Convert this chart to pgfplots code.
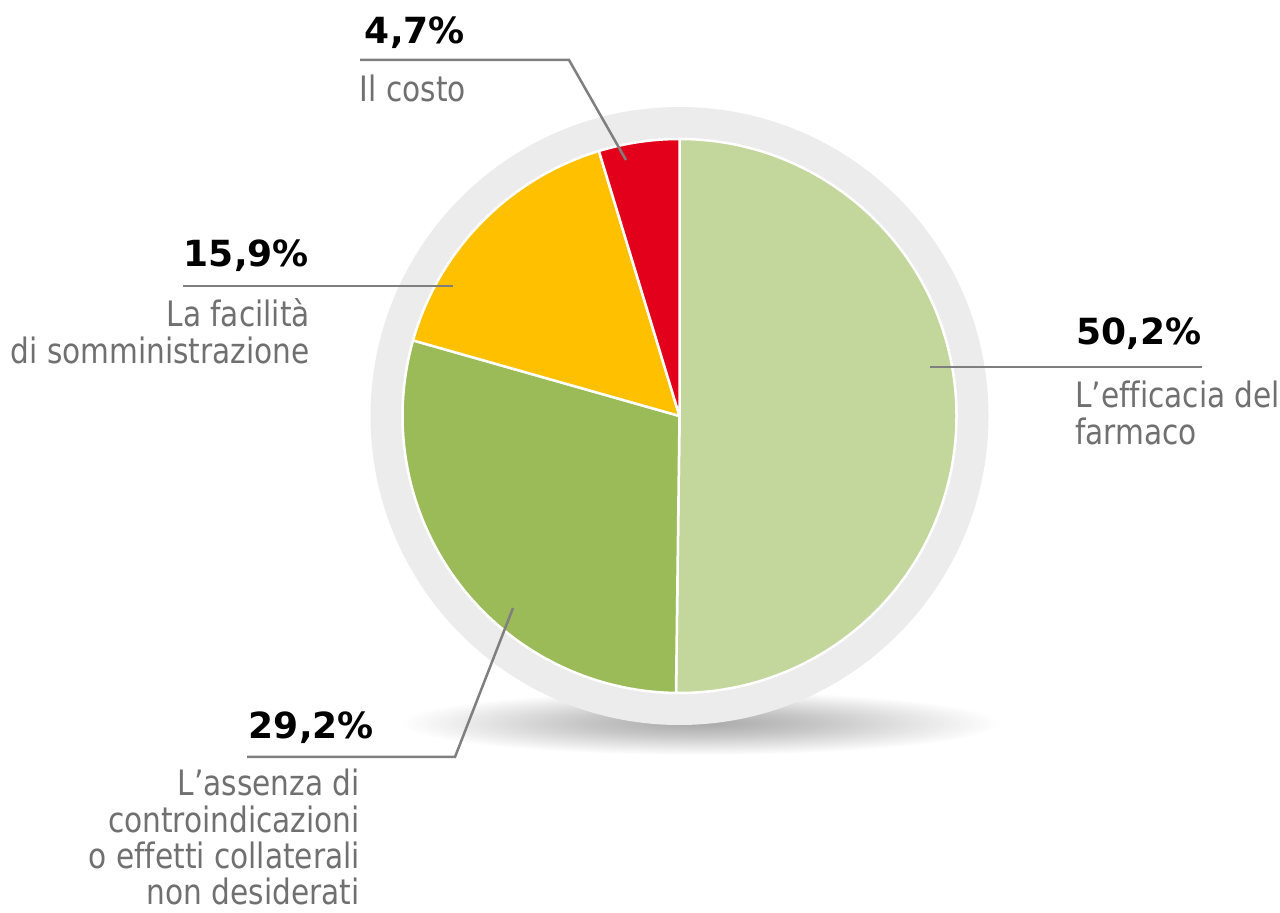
\documentclass[border=0pt]{standalone}
\usepackage{fontspec}
\setmainfont{DejaVu Sans Condensed}[FakeStretch=0.94, Ligatures=NoCommon]
\newfontfamily\pctfont{DejaVu Sans}[Ligatures=NoCommon]
\usepackage{pgfplots}
\usepackage{pgfplotstable}
\pgfplotsset{compat=1.18}

\definecolor{sliceA}{HTML}{C3D69B}
\definecolor{sliceB}{HTML}{9BBB59}
\definecolor{sliceC}{HTML}{FFC000}
\definecolor{sliceD}{HTML}{E2001A}
\definecolor{ringgray}{HTML}{ECECEC}
\definecolor{leader}{HTML}{7F7F7F}
\definecolor{txtgray}{HTML}{707070}

\pgfdeclareradialshading{pieshadow}{\pgfpoint{0bp}{0bp}}{%
  color(0bp)=(black!34); color(10bp)=(black!22); color(25bp)=(white); color(50bp)=(white)}

% shares, clockwise from 12 o'clock
\pgfplotstableread{
value
50.2
29.2
15.9
4.7
}\piedata

\newcommand{\pct}[1]{\pctfont\fontsize{36}{37}\selectfont\bfseries #1}
\newcommand{\lbl}{\fontsize{35}{37}\selectfont\color{txtgray}}

\begin{document}
\begin{tikzpicture}
\pgfplotstablegetelem{0}{value}\of\piedata \pgfmathsetmacro\va{\pgfplotsretval}
\pgfplotstablegetelem{1}{value}\of\piedata \pgfmathsetmacro\vb{\pgfplotsretval}
\pgfplotstablegetelem{2}{value}\of\piedata \pgfmathsetmacro\vc{\pgfplotsretval}
\pgfplotstablegetelem{3}{value}\of\piedata \pgfmathsetmacro\vd{\pgfplotsretval}
\pgfmathsetmacro\aA{90-3.6*\va}
\pgfmathsetmacro\aB{\aA-3.6*\vb}
\pgfmathsetmacro\aC{\aB-3.6*\vc}
\pgfmathsetmacro\aD{\aC-3.6*\vd}
\begin{axis}[
    width=1280pt, height=913pt, scale only axis,
    xmin=0, xmax=1280, ymin=0, ymax=913,
    enlargelimits=false, hide axis, clip=false,
]
\addplot[draw=none] coordinates {(0,0) (1280,913)};
% shadow and grey ring
\shade[shading=pieshadow] (axis cs:700,190) ellipse[x radius=300pt, y radius=32pt];
\fill[ringgray] (axis cs:679.5,497) circle[radius=309pt];
% slices
\filldraw[fill=sliceA, draw=white, line width=2.5pt, line join=round]
  (axis cs:679.5,497) -- ++(90:277pt) arc[start angle=90, end angle=\aA, radius=277pt] -- cycle;
\filldraw[fill=sliceB, draw=white, line width=2.5pt, line join=round]
  (axis cs:679.5,497) -- ++(\aA:277pt) arc[start angle=\aA, end angle=\aB, radius=277pt] -- cycle;
\filldraw[fill=sliceC, draw=white, line width=2.5pt, line join=round]
  (axis cs:679.5,497) -- ++(\aB:277pt) arc[start angle=\aB, end angle=\aC, radius=277pt] -- cycle;
\filldraw[fill=sliceD, draw=white, line width=2.5pt, line join=round]
  (axis cs:679.5,497) -- ++(\aC:277pt) arc[start angle=\aC, end angle=\aD, radius=277pt] -- cycle;
% leader lines
\draw[leader, line width=2.5pt] (axis cs:360,853) -- (axis cs:569,853) -- (axis cs:626,753);
\draw[leader, line width=2.5pt] (axis cs:183,627) -- (axis cs:453,627);
\draw[leader, line width=2.5pt] (axis cs:930,546) -- (axis cs:1202,546);
\draw[leader, line width=2.5pt] (axis cs:247,156) -- (axis cs:455,156) -- (axis cs:513,305);
% labels
\node[anchor=base east, inner sep=0pt] at (axis cs:465,869) {\pct{4,7\%}};
\node[anchor=base east, inner sep=0pt] at (axis cs:466,811) {\lbl Il costo};
\node[anchor=base east, inner sep=0pt] at (axis cs:309,646) {\pct{15,9\%}};
\node[anchor=base east, inner sep=0pt] at (axis cs:310,586) {\lbl La facilità};
\node[anchor=base east, inner sep=0pt] at (axis cs:310,549) {\lbl di somministrazione};
\node[anchor=base west, inner sep=0pt] at (axis cs:1076,568) {\pct{50,2\%}};
\node[anchor=base west, inner sep=0pt] at (axis cs:1075,505) {\lbl L’efficacia del};
\node[anchor=base west, inner sep=0pt] at (axis cs:1075,468) {\lbl farmaco};
\node[anchor=base east, inner sep=0pt] at (axis cs:374,174) {\pct{29,2\%}};
\node[anchor=base east, inner sep=0pt] at (axis cs:360,117) {\lbl L’assenza di};
\node[anchor=base east, inner sep=0pt] at (axis cs:360,80) {\lbl controindicazioni};
\node[anchor=base east, inner sep=0pt] at (axis cs:360,44) {\lbl o effetti collaterali};
\node[anchor=base east, inner sep=0pt] at (axis cs:360,8) {\lbl non desiderati};
\end{axis}
\pgfresetboundingbox
\path[use as bounding box] (0,0) rectangle (1280pt,913pt);
\end{tikzpicture}
\end{document}
